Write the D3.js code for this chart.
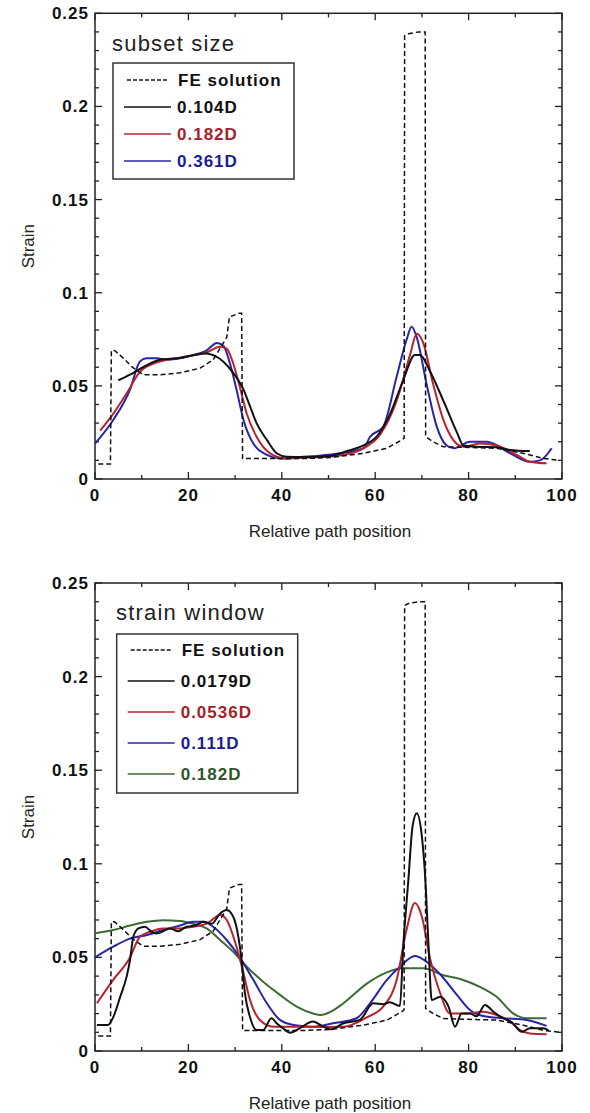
<!DOCTYPE html>
<meta charset="utf-8">
<style>
    body { margin: 0; background: #fff; }
    svg { font-family: "Liberation Sans", Arial, sans-serif; }
    .tick-label { font-size: 17px; font-weight: bold; fill: #111; letter-spacing: 1px; }
    .axis-title { font-size: 17px; fill: #222; }
</style>
<script src="https://d3js.org/d3.v7.min.js"></script>
<div id="chart"></div>
<script>

    // tick values and labels
    var xTicks = [0, 20, 40, 60, 80, 100];
    var yTicks = [0, 0.05, 0.1, 0.15, 0.2, 0.25];
    var yTickLabels = ["0", "0.05", "0.1", "0.15", "0.2", "0.25"];

    // FE solution (same in both panels) [position, strain]
    var feSolution = [[0.7,0.008],[3.3,0.008],[3.5,0.069],[4.2,0.069],[6,0.065],[8,0.060],[10.3,0.056],[14,0.056],[18.2,0.057],
        [22.5,0.0595],[25.3,0.064],[28.2,0.076],[28.8,0.087],[30.9,0.089],[31.4,0.089],[31.6,0.011],[38,0.011],[45,0.011],[50.3,0.0115],
        [57.5,0.0138],[62.5,0.0165],[65.7,0.021],[66.2,0.022],[66.3,0.238],[67.1,0.239],[69.2,0.240],[70.2,0.240],[70.7,0.240],
        [70.8,0.0227],[72.4,0.020],[74.6,0.0173],[78.9,0.017],[86,0.0165],[91.7,0.0138],[96,0.011],[99.5,0.010]];

    // top panel: subset size
    var subsetLabels = ["0.104D", "0.182D", "0.361D"];
    var subset0104 = [[5,0.053],[7.5,0.056],[11,0.061],[13.9,0.064],[18.2,0.065],[21,0.0665],[23.9,0.0674],[25.3,0.0665],[27.5,0.063],
        [29.6,0.057],[31.8,0.048],[33.2,0.039],[34.6,0.030],[36.8,0.021],[38.9,0.0138],[41,0.012],[45,0.0118],[50.3,0.0123],[54,0.015],
        [57.5,0.018],[60.3,0.0227],[63.2,0.035],[66,0.053],[68.5,0.0665],[69.6,0.0665],[71.7,0.058],[74.6,0.042],[77.5,0.025],
        [78.9,0.018],[81.7,0.0173],[86,0.017],[88.9,0.0156],[93.1,0.015]];
    var subset0182 = [[1.1,0.026],[3.9,0.035],[6.8,0.046],[9.6,0.0575],[12.5,0.062],[15.4,0.064],[20.3,0.066],[23.9,0.068],[26.8,0.071],
        [28.2,0.070],[29.6,0.062],[31,0.0495],[32.5,0.035],[34.6,0.0227],[37.5,0.0138],[41,0.011],[46,0.0115],[52,0.0125],[57.5,0.0165],
        [61,0.0236],[64.6,0.042],[67.5,0.067],[68.9,0.078],[70.3,0.073],[72.4,0.051],[74.6,0.0317],[76.7,0.021],[78.9,0.0173],
        [82.4,0.019],[86,0.018],[90.3,0.0129],[93.1,0.0093],[96.7,0.0084]];
    var subset0361 = [[0,0.019],[3.9,0.0317],[7.5,0.048],[9.6,0.063],[11,0.0648],[13.2,0.0648],[15.4,0.064],[20.3,0.066],[23.9,0.069],
        [26.1,0.073],[27.5,0.0715],[28.9,0.062],[30.3,0.048],[31.8,0.0317],[33.9,0.019],[36.8,0.0129],[39.6,0.011],[44,0.0118],
        [48,0.0125],[52.5,0.0138],[57.5,0.0165],[58.9,0.0227],[61.7,0.028],[64.6,0.055],[66.7,0.0746],[67.8,0.0817],[68.9,0.076],
        [71,0.051],[73.2,0.028],[75.3,0.018],[76.9,0.0165],[80.3,0.020],[83.9,0.020],[88.9,0.0138],[93.1,0.0093],[95.3,0.010],[97.8,0.0165]];

    // bottom panel: strain window
    var windowLabels = ["0.0179D", "0.0536D", "0.111D", "0.182D"];
    var window00179 = [[0.4,0.0139],[2.8,0.0139],[3.9,0.018],[5.4,0.029],[6.8,0.040],[7.5,0.0486],[8.2,0.061],[9.3,0.0655],[10.7,0.0664],
        [12.1,0.0637],[13.2,0.0628],[14.6,0.064],[16.1,0.0655],[17.8,0.064],[19.6,0.0664],[21.4,0.067],[23.2,0.069],[25,0.068],
        [26.8,0.0735],[28.2,0.0753],[29.6,0.0717],[30.7,0.061],[31.4,0.0486],[32.1,0.031],[33.2,0.018],[34.6,0.0112],[36,0.0112],
        [37.8,0.0175],[38.9,0.0148],[40.3,0.012],[41.8,0.0098],[43.8,0.0121],[46.7,0.0157],[48.9,0.013],[50.5,0.0116],[53.2,0.0148],
        [56.7,0.0166],[59.6,0.0255],[61.7,0.025],[63.1,0.026],[65.3,0.024],[66,0.0557],[67.1,0.0913],[68,0.12],[68.9,0.127],[70,0.1145],
        [70.7,0.093],[71.4,0.0575],[72.1,0.0272],[73.9,0.029],[75.7,0.0237],[77.1,0.013],[78.5,0.020],[80.3,0.020],[81.7,0.0185],
        [83.5,0.0246],[85.3,0.021],[87.4,0.0175],[89.2,0.0155],[91.4,0.0103],[93.1,0.0121],[96,0.0121],[97.1,0.0112]];
    var window00536 = [[0.4,0.0255],[3.9,0.038],[7.5,0.050],[9.6,0.061],[11.8,0.0637],[14.6,0.0655],[18.2,0.0655],[21,0.0664],[23.9,0.068],
        [26.8,0.0726],[28.2,0.070],[30.3,0.0557],[31.8,0.0415],[33.2,0.0272],[35.3,0.0166],[38.2,0.013],[41.8,0.013],[47,0.0128],
        [53.2,0.013],[58.2,0.018],[61.7,0.0237],[64.6,0.038],[66.7,0.0646],[68.5,0.079],[70,0.0717],[71.7,0.050],[73.9,0.031],
        [76,0.020],[79.6,0.020],[83.1,0.021],[86,0.0192],[88.9,0.0157],[91,0.0112],[93.1,0.0094],[96.7,0.009]];
    var window0111 = [[0,0.050],[3.9,0.0557],[7.5,0.060],[11.1,0.062],[14.6,0.0646],[18.2,0.067],[21,0.069],[23.2,0.069],[25.3,0.0664],
        [28.2,0.0593],[31,0.050],[33.9,0.038],[36.8,0.0255],[39.6,0.0166],[42.5,0.0139],[46.8,0.013],[51,0.0148],[56,0.0175],
        [58.9,0.0255],[62.5,0.038],[65.3,0.045],[68.5,0.0507],[71,0.0477],[73.9,0.041],[77.5,0.030],[80.3,0.0219],[83.1,0.0187],
        [87.4,0.0175],[92.4,0.0166],[96.7,0.0134]];
    var window0182 = [[0,0.0629],[3.9,0.0646],[7.5,0.067],[11.1,0.069],[14.6,0.0699],[18.2,0.0695],[21,0.068],[23.9,0.0655],[26.8,0.0593],
        [29.6,0.053],[32.5,0.045],[36,0.037],[39.6,0.030],[43.2,0.0237],[46.7,0.020],[48.3,0.0192],[50.5,0.021],[53.2,0.0255],[58.2,0.036],
        [62.5,0.042],[66,0.0442],[70.3,0.0442],[74.6,0.0405],[78.2,0.0385],[82.4,0.0343],[86,0.029],[89.6,0.020],[92.4,0.0175],[96.7,0.0175]];

    var colors = { black: "#111111", red: "#b8232e", blue: "#2626a6", green: "#3f6a36" };
    var textColors = { black: "#111111", red: "#a51f2a", blue: "#1c1c96", green: "#2f552a" };

    var svg = d3.select("#chart")
        .append("svg")
        .attr("width", 590)
        .attr("height", 1113);

    function drawPanel(opts) {
        var x = d3.scaleLinear().domain([0, 100]).range([95, 562]);
        var y = d3.scaleLinear().domain([0, 0.25]).range([opts.bottom, opts.top]);
        var g = svg.append("g");

        var clipId = "clip" + opts.id;
        svg.append("defs").append("clipPath").attr("id", clipId)
            .append("rect")
            .attr("x", 95).attr("y", opts.top)
            .attr("width", 467).attr("height", opts.bottom - opts.top);

        // frame
        g.append("rect")
            .attr("x", x(0)).attr("y", y(0.25))
            .attr("width", x(100) - x(0)).attr("height", y(0) - y(0.25))
            .attr("fill", "none").attr("stroke", "#222").attr("stroke-width", 1.5);

        // ticks, pointing inwards on all four sides
        var minorX = d3.range(0, 101, 10);
        var minorY = d3.range(0, 0.2501, 0.01);
        minorX.forEach(function(v) {
            var len = v % 20 === 0 ? 7 : 4;
            g.append("line").attr("x1", x(v)).attr("x2", x(v)).attr("y1", y(0)).attr("y2", y(0) - len)
                .attr("stroke", "#222").attr("stroke-width", 1.3);
            g.append("line").attr("x1", x(v)).attr("x2", x(v)).attr("y1", y(0.25)).attr("y2", y(0.25) + len)
                .attr("stroke", "#222").attr("stroke-width", 1.3);
        });
        minorY.forEach(function(v, i) {
            var len = i % 5 === 0 ? 7 : 4;
            g.append("line").attr("x1", x(0)).attr("x2", x(0) + len).attr("y1", y(v)).attr("y2", y(v))
                .attr("stroke", "#222").attr("stroke-width", 1.3);
            g.append("line").attr("x1", x(100)).attr("x2", x(100) - len).attr("y1", y(v)).attr("y2", y(v))
                .attr("stroke", "#222").attr("stroke-width", 1.3);
        });

        g.selectAll(".xlab").data(xTicks).enter().append("text")
            .attr("class", "tick-label")
            .attr("x", function(d) { return x(d); })
            .attr("y", y(0) + 22)
            .attr("text-anchor", "middle")
            .text(function(d) { return d; });

        g.selectAll(".ylab").data(yTicks).enter().append("text")
            .attr("class", "tick-label")
            .attr("x", x(0) - 6)
            .attr("y", function(d) { return y(d) + 6; })
            .attr("text-anchor", "end")
            .text(function(d, i) { return yTickLabels[i]; });

        g.append("text")
            .attr("class", "axis-title")
            .attr("x", 330).attr("y", y(0) + 58)
            .attr("text-anchor", "middle")
            .text("Relative path position");

        g.append("text")
            .attr("class", "axis-title")
            .attr("transform", "translate(34," + ((y(0) + y(0.25)) / 2) + ") rotate(-90)")
            .attr("text-anchor", "middle")
            .text("Strain");

        var line = d3.line()
            .x(function(d) { return x(d[0]); })
            .y(function(d) { return y(d[1]); });
        var smooth = d3.line()
            .x(function(d) { return x(d[0]); })
            .y(function(d) { return y(d[1]); })
            .curve(d3.curveMonotoneX);

        var plot = g.append("g").attr("clip-path", "url(#" + clipId + ")");

        opts.series.slice().reverse().forEach(function(s) {
            plot.append("path")
                .datum(s.data)
                .attr("fill", "none")
                .attr("stroke", colors[s.color])
                .attr("stroke-width", 2)
                .attr("stroke-linejoin", "round")
                .attr("d", smooth);
        });

        plot.append("path")
            .datum(feSolution)
            .attr("fill", "none")
            .attr("stroke", "#111")
            .attr("stroke-width", 1.5)
            .attr("stroke-dasharray", "5,3")
            .attr("d", line);

        // title and legend
        g.append("text")
            .attr("x", opts.titleX).attr("y", opts.titleY)
            .style("font-size", "22px")
            .style("letter-spacing", "1.2px")
            .style("fill", "#222")
            .text(opts.title);

        g.append("rect")
            .attr("x", opts.legend.x).attr("y", opts.legend.y)
            .attr("width", opts.legend.w).attr("height", opts.legend.h)
            .attr("fill", "#fff").attr("stroke", "#333").attr("stroke-width", 1.5);

        var rowY = function(i) { return opts.legend.y + opts.legend.first + i * opts.legend.step; };
        var lx = opts.legend.x + 11;

        g.append("line")
            .attr("x1", lx + 3).attr("x2", lx + 44)
            .attr("y1", rowY(0)).attr("y2", rowY(0))
            .attr("stroke", "#111").attr("stroke-width", 1.3).attr("stroke-dasharray", "4,2");
        g.append("text")
            .attr("x", lx + 54).attr("y", rowY(0) + 6)
            .style("font-size", "17px").style("font-weight", "bold").style("fill", "#111")
            .style("letter-spacing", "1px")
            .text("FE solution");

        opts.series.forEach(function(s, i) {
            g.append("line")
                .attr("x1", lx).attr("x2", lx + 47)
                .attr("y1", rowY(i + 1)).attr("y2", rowY(i + 1))
                .attr("stroke", colors[s.color]).attr("stroke-width", 1.5);
            g.append("text")
                .attr("x", lx + 53).attr("y", rowY(i + 1) + 6)
                .style("font-size", "17px").style("font-weight", "bold")
                .style("letter-spacing", "1px")
                .style("fill", textColors[s.color])
                .text(s.label);
        });
    }

    drawPanel({
        id: "top", top: 13.3, bottom: 479,
        title: "subset size", titleX: 112, titleY: 51,
        legend: { x: 113, y: 63, w: 181, h: 116, first: 17, step: 27 },
        series: [
            { label: subsetLabels[0], data: subset0104, color: "black" },
            { label: subsetLabels[1], data: subset0182, color: "red" },
            { label: subsetLabels[2], data: subset0361, color: "blue" }
        ]
    });

    drawPanel({
        id: "bottom", top: 583, bottom: 1051,
        title: "strain window", titleX: 116, titleY: 620,
        legend: { x: 116.7, y: 634, w: 181, h: 159, first: 16, step: 31 },
        series: [
            { label: windowLabels[0], data: window00179, color: "black" },
            { label: windowLabels[1], data: window00536, color: "red" },
            { label: windowLabels[2], data: window0111, color: "blue" },
            { label: windowLabels[3], data: window0182, color: "green" }
        ]
    });
</script>
